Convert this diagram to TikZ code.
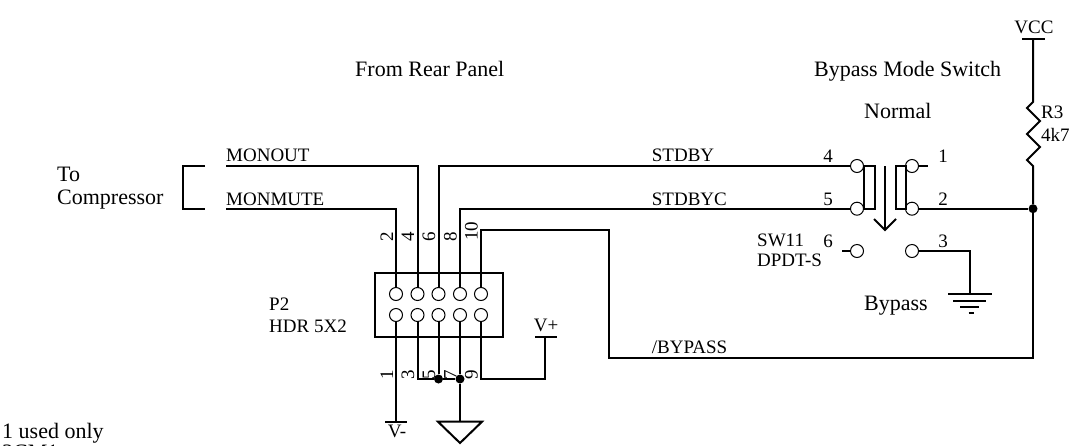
\documentclass[tikz,border=0pt]{standalone}
\usepackage{fontspec}
\setmainfont{Liberation Serif}
\usepackage{tikz}

\tikzset{
	wire/.style={line width=2pt},
	pin/.style={draw=black, circle, fill=white, line width=1pt, inner sep=0pt, minimum size=13pt},
	dot/.style={fill=black, circle, inner sep=0pt, minimum size=9pt},
	lab/.style={font=\fontsize{19}{19}\selectfont, inner sep=0pt, anchor=base west},
	big/.style={font=\fontsize{22}{22}\selectfont, inner sep=0pt, anchor=base west},
	num/.style={font=\fontsize{19}{19}\selectfont, inner sep=0pt, anchor=base},
	rotnum/.style={font=\fontsize{19}{19}\selectfont, inner sep=0pt, rotate=90, anchor=base}
}

\begin{document}
\begin{tikzpicture}[x=1pt,y=-1pt]
		\useasboundingbox (0,0) rectangle (1079,445);
		\clip (0,0) rectangle (1079,445);
		% connector
		\node[draw=black, line width=2pt, minimum width=127.5pt, minimum height=64pt, inner sep=0pt] (hdr) at (439,304.7) {};
		\node[pin] (p2) at (396,294) {};	\node[pin] (p4) at (417.5,294) {};	\node[pin] (p6) at (438.5,294) {};
		\node[pin] (p8) at (460,294) {};	\node[pin] (p10) at (481,294) {};
		\node[pin] (p1) at (396,315) {};	\node[pin] (p3) at (417.5,315) {};	\node[pin] (p5) at (438.5,315) {};
		\node[pin] (p7) at (460,315) {};	\node[pin] (p9) at (481,315) {};
		% switch
		\node[pin] (s4) at (857,166) {};	\node[pin] (s1) at (912,166) {};
		\node[pin] (s5) at (857,208.7) {};	\node[pin] (s2) at (912,208.7) {};
		\node[pin] (s6) at (857,251) {};	\node[pin] (s3) at (912,251) {};
		\draw[wire] (863.7,166) -- (874.7,166) -- (874.7,208.7) -- (863.7,208.7) -- cycle;
		\draw[wire] (895.7,166) -- (906.3,166) -- (906.3,208.7) -- (895.7,208.7) -- cycle;
		\coordinate (armtop) at (885,166);	\coordinate (armtip) at (885,230);
		\draw[wire] (armtop) -- (armtip);	\draw[wire] (874,219) -- (armtip) -- (896,219);
		\coordinate (stub1) at (928,166);	\draw[wire] (s1) -- (stub1);
		\coordinate (stub6) at (842,251);	\draw[wire] (stub6) -- (s6);
		% nets
		\coordinate (monout) at (226,165.7);	\draw[wire] (monout) -| (p4);
		\coordinate (monmute) at (226,208.7);	\draw[wire] (monmute) -| (p2);
		\coordinate (brk1) at (205,165.7);	\coordinate (brk2) at (205,208.7);
		\draw[wire] (brk1) -- (183,165.7) -- (183,208.7) -- (brk2);
		\draw[wire] (s4) -| (p6);
		\draw[wire] (s5) -| (p8);
		\node[dot] (jr) at (1033,208.7) {};	\draw[wire] (s2) -- (jr);
		\coordinate (bp1) at (608.5,230);	\coordinate (bp2) at (608.5,357.5);	\coordinate (bp3) at (1033,357.5);
		\draw[wire] (p10) |- (bp1) -- (bp2) -- (bp3) -- (jr);
		% power
		\coordinate (vcc) at (1033,38.5);	\draw[wire] (1022,38.5) -- (1045,38.5);
		\draw[wire] (vcc) -- (1033,102) -- (1027,108) -- (1040,121) -- (1027,134) -- (1040,147) -- (1027,160) -- (1033,166) -- (jr);
		\coordinate (vm) at (396,421.7);	\draw[wire] (385,421.7) -- (407,421.7);	\draw[wire] (p1) -- (vm);
		\node[dot] (j5) at (438.5,379) {};	\node[dot] (j7) at (460,379) {};
		\draw[wire] (p3) |- (j5);	\draw[wire] (p5) -- (j5);	\draw[wire] (j5) -- (j7);	\draw[wire] (p7) -- (j7);
		\coordinate (gnd) at (460,421.7);	\draw[wire] (j7) -- (gnd);
		\draw[wire] (438,421.7) -- (482,421.7) -- (460,443) -- cycle;
		\coordinate (vp) at (545,336.5);	\coordinate (vpc) at (545,379.3);
		\draw[wire] (535,336.5) -- (557,336.5);	\draw[wire] (p9) |- (vpc) -- (vp);
		\coordinate (gndc) at (970,251);	\coordinate (gnd2) at (970,294);	\draw[wire] (s3) -- (gndc) -- (gnd2);
		\draw[wire] (948,294) -- (992,294);	\draw[wire] (953,300.5) -- (986,300.5);
		\draw[wire] (960,307) -- (979,307);	\draw[wire] (968.5,313) -- (973.5,313);
		% labels
		\node[big] (t1) at (355,76) {From Rear Panel};
		\node[big] (t2) at (814,76) {Bypass Mode Switch};
		\node[big] (t3) at (864,118) {Normal};
		\node[big] (t4) at (864,310) {Bypass};
		\node[big] (t5) at (57,181.7) {To};
		\node[big] (t6) at (57,204) {Compressor};
		\node[lab] (n1) at (226,161.7) {MONOUT};
		\node[lab] (n2) at (226,205) {MONMUTE};
		\node[lab] (n3) at (651.7,161.7) {STDBY};
		\node[lab] (n4) at (651.7,205) {STDBYC};
		\node[lab] (n5) at (651.7,353) {/BYPASS};
		\node[lab] (r1) at (1041,118) {R3};
		\node[lab] (r2) at (1041,141) {4k7};
		\node[lab] (u1) at (269,310.7) {P2};
		\node[lab] (u2) at (269,332) {HDR 5X2};
		\node[lab] (u3) at (757,246.7) {SW11};
		\node[lab] (u4) at (757,266) {DPDT-S};
		\node[num] (vt1) at (1034,33) {VCC};
		\node[num] (vt2) at (397,437.7) {V-};
		\node[num] (vt3) at (546,331.7) {V+};
		\node[num] (s4t) at (828,162) {4};	\node[num] (s5t) at (828,205) {5};	\node[num] (s6t) at (828,247) {6};
		\node[num] (s1t) at (943,162) {1};	\node[num] (s2t) at (943,205) {2};	\node[num] (s3t) at (943,247) {3};
		\node[rotnum] (l2) at (393,237) {2};	\node[rotnum] (l4) at (414,237) {4};	\node[rotnum] (l6) at (435,237) {6};
		\node[rotnum] (l8) at (456.7,237) {8};	\node[rotnum] (l10) at (477.7,231) {10};
		\node[rotnum] (l1) at (393,375) {1};	\node[rotnum] (l3) at (414,375) {3};	\node[rotnum] (l5) at (435,375) {5};
		\node[rotnum] (l7) at (456.7,375) {7};	\node[rotnum] (l9) at (477.7,375) {9};
		\node[big] (f1) at (2,438) {1 used only};
		\node[big] (f2) at (2,459) {3CM1};
	\end{tikzpicture}
\end{document}
